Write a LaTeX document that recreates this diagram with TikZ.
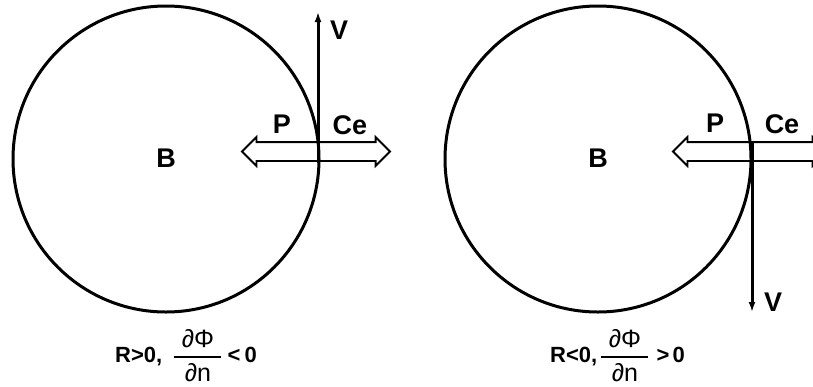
\documentclass[tikz,border=0pt]{standalone}
\usepackage{amsmath}
\usepackage{fontspec}
\setmainfont{Liberation Sans}
\usepackage{tikz}
\usetikzlibrary{arrows.meta, positioning, shapes.arrows}

\newcommand{\fracbox}[1]{\hbox to 47pt{\hss\fontsize{25}{28}\selectfont\mdseries #1\hss}}
\newcommand{\dphidn}{$\genfrac{}{}{1.8pt}{0}{\fracbox{∂Φ}}{\fracbox{∂n}}$}

\begin{document}
\begin{tikzpicture}[x=1pt, y=-1pt,
    lbl/.style={font=\fontsize{27}{30}\selectfont\bfseries, inner sep=0pt},
    cond/.style={font=\fontsize{22}{26}\selectfont\bfseries, inner sep=0pt},
    ball/.style={line width=3pt},
    vel/.style={line width=3pt, -{Latex[length=10pt, width=7pt]}},
    flux/.style={double arrow, draw, line width=1.8pt, inner xsep=0pt,
      inner ysep=8.5pt, minimum height=148pt, double arrow head extend=5pt}]
        \useasboundingbox (0,0) rectangle (813,386);
        % left case: V up
        \draw[ball] (166,159) circle (153);
        \node[lbl] (bL) at (166,158) {B};
        \node[flux] (fL) at (316,151.5) {};
        \coordinate (tL) at (318,163);
        \coordinate (vL) at (318,12);
        \draw[vel] (tL) -- (vL);
        \node[lbl] (VL) at (339,30) {V};
        \node[lbl] (pL) at (282,124) {P};
        \node[lbl] (cL) at (350,125) {Ce};
        \node[cond, anchor=base west] (rL) at (115,362)
          {R>0,\hspace{11pt}\dphidn\hspace{5pt}<\hspace{4pt}0};
        % right case: V down
        \draw[ball] (598,159) circle (153);
        \node[lbl] (bR) at (598,158) {B};
        \node[flux, minimum height=154pt] (fR) at (750,151.5) {};
        \coordinate (tR) at (752,143);
        \coordinate (vR) at (752,312);
        \draw[vel] (tR) -- (vR);
        \node[lbl] (VR) at (773,302) {V};
        \node[lbl] (pR) at (715,123) {P};
        \node[lbl] (cR) at (782,124) {Ce};
        \node[cond, anchor=base west] (rR) at (550,362)
          {R<0,\hspace{3pt}\dphidn\hspace{7pt}>\hspace{3pt}0};
      \end{tikzpicture}
\end{document}
